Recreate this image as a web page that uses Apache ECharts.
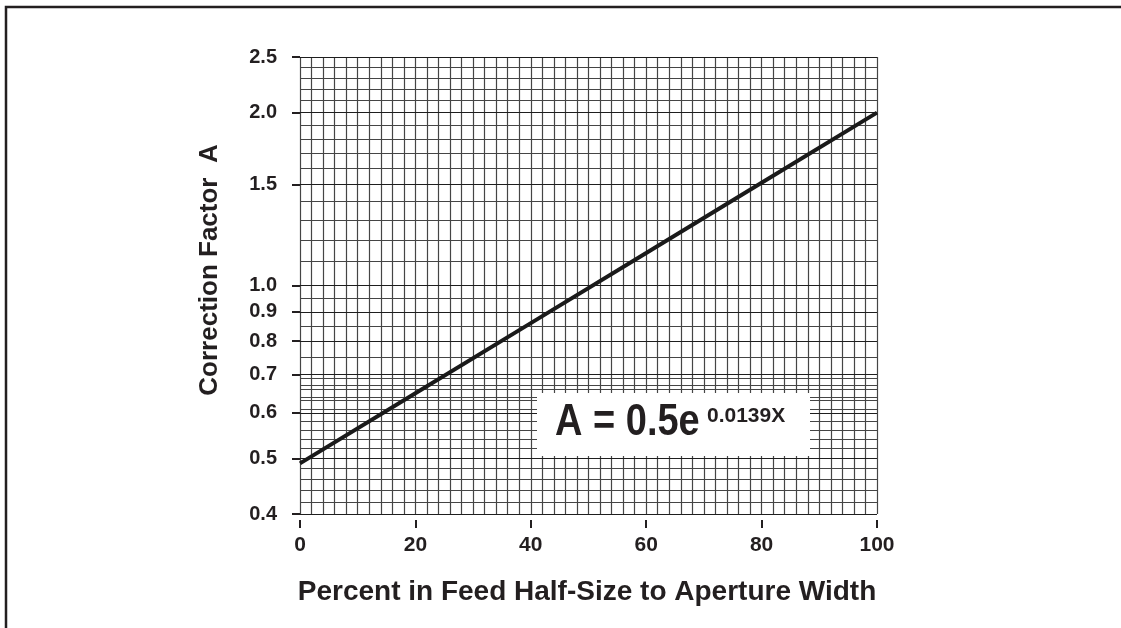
<!DOCTYPE html>
<html>
<head>
<meta charset="utf-8">
<script src="https://cdn.jsdelivr.net/npm/echarts@6/dist/echarts.min.js"></script>
<style>html,body{margin:0;padding:0;background:#fff;}#c{width:1121px;height:628px;}</style>
</head>
<body>
<div id="c"></div>
<script>
// Data
const xValues = [0, 20, 40, 60, 80, 100];
const aValues = [0.49, 0.649, 0.86, 1.139, 1.51, 2.0];
// Tick labels
const xTicks = [0, 20, 40, 60, 80, 100];
const yTicks = [0.4, 0.5, 0.6, 0.7, 0.8, 0.9, 1.0, 1.5, 2.0, 2.5];
// Grid (graph paper) lines
const xGrid = [0,2,4,6,8,10,12,14,16,18,20,22,24,26,28,30,32,34,36,38,40,42,44,46,48,50,52,54,56,58,60,62,64,66,68,70,72,74,76,78,80,82,84,86,88,90,92,94,96,98,100];
const yGrid = [0.4,0.42,0.44,0.46,0.48,0.5,0.52,0.54,0.56,0.58,0.6,0.614,0.627,0.641,0.655,0.67,0.685,0.7,0.75,0.8,0.85,0.9,0.95,1.0,1.1,1.2,1.3,1.4,1.5,1.6,1.7,1.8,1.9,2.0,2.1,2.2,2.3,2.4,2.5];
const xTitle = 'Percent in Feed Half-Size to Aperture Width';
const yTitle = 'Correction Factor  A';
const eqMain = 'A = 0.5e';
const eqExp = '0.0139X';

const INK = '#231f20';
const FONT = 'Liberation Sans';
const chart = echarts.init(document.getElementById('c'), null, {renderer: 'canvas'});

const gridLineData = [];
xGrid.forEach(v => gridLineData.push({xAxis: v}));
yGrid.forEach(v => gridLineData.push({yAxis: v, lineStyle: {color: yTicks.indexOf(v) >= 0 ? '#1e1e1e' : '#454545'}}));

chart.setOption({
  animation: false,
  backgroundColor: '#fff',
  grid: {left: 300, right: 244, top: 57, bottom: 114, containLabel: false},
  xAxis: {
    type: 'value', min: 0, max: 100, interval: 20, offset: 6,
    axisLine: {show: false},
    axisTick: {show: true, length: 8, lineStyle: {color: INK, width: 2}},
    axisLabel: {show: true, margin: 15, fontFamily: FONT, fontSize: 21, fontWeight: 'bold', color: INK,
      customValues: xTicks},
    splitLine: {show: false}
  },
  yAxis: {
    type: 'log', min: 0.4, max: 2.5, offset: 8,
    axisLine: {show: false},
    axisTick: {show: true, length: 8, customValues: yTicks, lineStyle: {color: INK, width: 2}},
    axisLabel: {show: true, margin: 15, fontFamily: FONT, fontSize: 20, fontWeight: 'bold', color: INK,
      customValues: yTicks, formatter: v => Number(v).toFixed(1)},
    splitLine: {show: false},
    minorSplitLine: {show: false}
  },
  series: [
    {
      type: 'line', data: [], z: 1, silent: true,
      markLine: {
        silent: true, symbol: 'none', animation: false,
        label: {show: false},
        lineStyle: {type: 'solid', color: '#454545', width: 1.2},
        emphasis: {disabled: true},
        data: gridLineData
      }
    },
    {
      type: 'line', z: 5, silent: true, symbol: 'none',
      lineStyle: {color: '#1a1a1a', width: 4},
      data: xValues.map((x, i) => [x, aValues[i]])
    }
  ],
  graphic: [
    {type: 'polyline', shape: {points: [[6, 628], [6, 7], [1121, 7]]}, style: {stroke: INK, lineWidth: 2.5, fill: null}, z: 10},
    {type: 'rect', shape: {x: 537, y: 393, width: 273, height: 63}, style: {fill: '#fff'}, z: 20},
    {type: 'text', x: 555, y: 423, scaleY: 1.15, style: {text: eqMain, font: 'bold 38px "Liberation Sans"', fill: INK, textVerticalAlign: 'middle'}, z: 21},
    {type: 'text', x: 707, y: 416, style: {text: eqExp, font: 'bold 21px "Liberation Sans"', fill: INK, textVerticalAlign: 'middle'}, z: 21},
    {type: 'text', x: 587, y: 592, style: {text: xTitle, font: 'bold 28px "Liberation Sans"', fill: INK, textAlign: 'center', textVerticalAlign: 'middle'}, z: 21},
    {type: 'text', x: 210, y: 270, rotation: Math.PI / 2, style: {text: yTitle, font: 'bold 26px "Liberation Sans"', fill: INK, textAlign: 'center', textVerticalAlign: 'middle'}, z: 21}
  ]
});
</script>
</body>
</html>
